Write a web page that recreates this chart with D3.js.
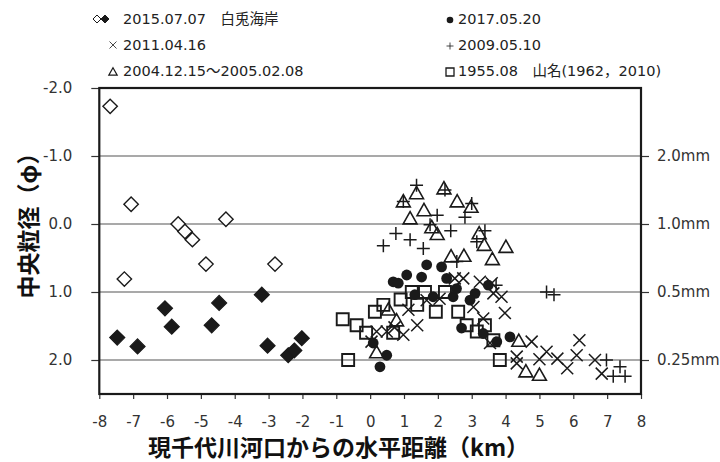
<!DOCTYPE html>
<html>
<head>
<meta charset="utf-8">
<script src="https://cdn.jsdelivr.net/npm/d3@7"></script>
<style>
  html, body { margin: 0; padding: 0; background: #fff; }
  svg { display: block; }
</style>
</head>
<body>
<svg id="chart" width="720" height="462"></svg>
<script>
// ---------- data (km from river mouth, median grain size φ) ----------
const xTicks = [-8,-7,-6,-5,-4,-3,-2,-1,0,1,2,3,4,5,6,7,8];
const yTicks = [-2,-1,0,1,2];
const gridValues = [-1,0,1,2];
const mmTicks = [2.0, 1.0, 0.5, 0.25];
const mmLabels = ["2.0mm","1.0mm","0.5mm","0.25mm"];

const hakuto2015Open = [[-7.68,-1.73],[-7.06,-0.29],[-7.26,0.81],[-5.67,0.00],[-5.47,0.11],[-5.25,0.23],[-4.85,0.59],[-4.26,-0.07],[-2.81,0.59]];
const hakuto2015Filled = [[-7.47,1.67],[-6.87,1.80],[-6.06,1.24],[-5.86,1.51],[-4.68,1.49],[-4.46,1.16],[-3.20,1.04],[-3.03,1.79],[-2.42,1.93],[-2.24,1.86],[-2.02,1.68]];
const s1955 = [[-0.81,1.40],[-0.40,1.49],[-0.12,1.60],[0.14,1.29],[0.39,1.19],[0.90,1.11],[1.23,1.00],[1.62,1.00],[1.39,1.19],[1.94,1.29],[2.21,1.00],[2.60,1.29],[0.68,1.60],[2.85,1.49],[3.39,1.49],[3.15,1.58],[3.64,1.71],[-0.65,2.00],[3.83,2.00]];
const s2004 = [[0.98,-0.33],[1.37,-0.45],[2.18,-0.52],[2.57,-0.33],[2.98,-0.25],[1.59,-0.20],[1.18,-0.08],[1.82,0.05],[1.98,0.15],[3.22,0.14],[3.37,0.31],[4.01,0.34],[2.39,0.48],[2.77,0.47],[3.61,0.52],[0.54,1.26],[0.78,1.42],[0.19,1.89],[4.60,2.17],[5.00,2.22],[4.39,1.72]];
const s2011 = [[2.75,0.80],[3.24,0.85],[3.64,1.02],[3.88,1.07],[3.98,1.31],[3.05,1.22],[3.34,1.39],[2.50,0.80],[1.13,1.26],[1.39,1.49],[0.98,1.63],[0.49,1.58],[0.19,1.58],[0.04,1.73],[1.67,1.12],[3.54,1.75],[4.33,1.95],[4.77,1.73],[4.33,2.05],[5.21,1.88],[5.53,1.98],[5.82,2.12],[6.18,1.71],[6.10,1.93],[6.64,2.00],[6.84,2.20],[5.00,1.99],[3.59,0.87],[2.05,1.10],[0.72,1.52]];
const s2009 = [[1.37,-0.57],[0.98,-0.33],[1.98,-0.13],[2.21,-0.50],[3.00,-0.30],[2.80,-0.10],[2.38,0.10],[1.77,0.01],[0.76,0.14],[1.18,0.23],[0.39,0.32],[1.57,0.36],[3.39,0.10],[3.15,0.26],[2.56,0.55],[5.21,1.00],[5.43,1.04],[6.98,2.00],[7.38,2.10],[7.53,2.24],[7.18,2.24],[3.72,0.90]];
const s2017 = [[1.67,0.60],[2.11,0.63],[1.08,0.75],[1.52,0.78],[0.68,0.85],[0.83,0.87],[2.26,0.80],[1.86,1.07],[1.32,1.04],[2.45,1.07],[3.10,1.02],[2.95,1.12],[3.49,0.90],[2.70,1.53],[3.34,1.61],[4.13,1.66],[0.09,1.75],[0.49,1.93],[0.29,2.10],[3.74,1.73],[2.55,0.95]];

const legendLabels = {
  hakuto: "2015.07.07\u3000白兎海岸",
  s2017: "2017.05.20",
  s2011: "2011.04.16",
  s2009: "2009.05.10",
  s2004: "2004.12.15～2005.02.08",
  s1955: "1955.08\u3000山名(1962，2010)"
};

// ---------- layout ----------
const svg = d3.select("#chart");
const pLeft = 99.3, pRight = 641, pTop = 88, pBottom = 394;
const x = d3.scaleLinear().domain([-8, 8]).range([pLeft, pRight]);
const y = d3.scaleLinear().domain([-2, 2.5]).range([pTop, pBottom]);
const ink = "#1a1a1a";
const tickColor = "#333";
const numFont = "'DejaVu Sans', Verdana, sans-serif";
const cjkFont = "'DejaVu Sans', 'Noto Sans CJK JP', sans-serif";

// marker path generators
const shapes = {
  diamond: r => `M0,${-r}L${r},0L0,${r}L${-r},0Z`,
  square: r => `M${-r},${-r}H${r}V${r}H${-r}Z`,
  triangle: r => `M0,${-r*1.05}L${r*1.05},${r*0.8}L${-r*1.05},${r*0.8}Z`,
  cross: r => `M${-r},${-r}L${r},${r}M${-r},${r}L${r},${-r}`,
  plus: r => `M${-r},0H${r}M0,${-r}V${r}`
};

// gridlines
svg.append("g").selectAll("line").data(gridValues).join("line")
  .attr("x1", pLeft).attr("x2", pRight)
  .attr("y1", d => y(d)).attr("y2", d => y(d))
  .attr("stroke", "#555").attr("stroke-width", 1.2);

// axes
function styleAxis(g) {
  g.select(".domain").remove();
  g.selectAll(".tick line").attr("stroke", "#333").attr("stroke-width", 1.2);
  g.selectAll(".tick text").attr("fill", tickColor).style("font-family", numFont).style("font-size", "15px");
}
svg.append("g").attr("transform", `translate(0,${pBottom})`)
  .call(d3.axisBottom(x).tickValues(xTicks).tickFormat(d => String(d)).tickSize(5).tickPadding(17))
  .call(styleAxis);
svg.append("g").attr("transform", `translate(${pLeft},0)`)
  .call(d3.axisLeft(y).tickValues(yTicks).tickFormat(d => d.toFixed(1)).tickSize(8).tickPadding(19))
  .call(styleAxis);
const mmPos = mmTicks.map(m => -Math.log2(m));
svg.append("g").attr("transform", `translate(${pRight},0)`)
  .call(d3.axisRight(y).tickValues(mmPos).tickFormat((d, i) => mmLabels[i]).tickSize(8).tickPadding(8))
  .call(styleAxis);

// frame
svg.append("rect").attr("x", pLeft).attr("y", pTop)
  .attr("width", pRight - pLeft).attr("height", pBottom - pTop)
  .attr("fill", "none").attr("stroke", ink).attr("stroke-width", 2.2);

// series
const series = [
  {data: hakuto2015Open, shape: "diamond", r: 7.2, fill: "#fff", sw: 1.4},
  {data: hakuto2015Filled, shape: "diamond", r: 7.5, fill: ink, sw: 1.2},
  {data: s1955, shape: "square", r: 6, fill: "none", sw: 1.9},
  {data: s2004, shape: "triangle", r: 6.6, fill: "none", sw: 1.6},
  {data: s2011, shape: "cross", r: 6, fill: "none", sw: 1.5},
  {data: s2009, shape: "plus", r: 6.5, fill: "none", sw: 1.5},
];
const plotG = svg.append("g");
series.forEach(s => {
  plotG.append("g").selectAll("path").data(s.data).join("path")
    .attr("transform", d => `translate(${x(d[0])},${y(d[1])})`)
    .attr("d", shapes[s.shape](s.r))
    .attr("fill", s.fill).attr("stroke", ink).attr("stroke-width", s.sw)
    .attr("stroke-linejoin", "miter");
});
plotG.append("g").selectAll("circle").data(s2017).join("circle")
  .attr("cx", d => x(d[0])).attr("cy", d => y(d[1])).attr("r", 5.4)
  .attr("fill", ink);

// legend
const leg = svg.append("g");
const rows = [19, 45, 71];
function legText(tx, ty, txt) {
  leg.append("text").attr("x", tx).attr("y", ty).attr("dy", "0.36em")
    .attr("fill", "#222").style("font-family", cjkFont).style("font-size", "14.5px").text(txt);
}
function legMark(shape, cx, cy, r, fill, sw) {
  leg.append("path").attr("transform", `translate(${cx},${cy})`).attr("d", shapes[shape](r))
    .attr("fill", fill).attr("stroke", ink).attr("stroke-width", sw);
}
legMark("diamond", 97, rows[0], 4, "#fff", 1);
legMark("diamond", 105, rows[0], 4, ink, 1);
legText(123, rows[0], legendLabels.hakuto);
legMark("cross", 113, rows[1], 3.5, "none", 0.8);
legText(123, rows[1], legendLabels.s2011);
legMark("triangle", 113, rows[2] + 1, 4, "none", 1.2);
legText(123, rows[2], legendLabels.s2004);
leg.append("circle").attr("cx", 450).attr("cy", rows[0] + 1).attr("r", 3.3).attr("fill", ink);
legText(458, rows[0], legendLabels.s2017);
legMark("plus", 450, rows[1] + 1, 3.5, "none", 0.8);
legText(458, rows[1], legendLabels.s2009);
legMark("square", 450, rows[2] + 1, 4, "none", 1.3);
legText(458, rows[2], legendLabels.s1955);

// axis titles
svg.append("text").attr("x", 148).attr("y", 456)
  .style("font-family", "'Noto Sans CJK JP', sans-serif").style("font-weight", "bold").style("font-size", "23px")
  .attr("fill", "#111").text("現千代川河口からの水平距離（km）");
svg.append("text").attr("transform", "translate(29,220) rotate(-90)")
  .attr("text-anchor", "middle").attr("dy", "0.36em")
  .style("font-family", "'Noto Sans CJK JP', sans-serif").style("font-weight", "bold").style("font-size", "23px")
  .attr("fill", "#111").text("中央粒径（φ）");
</script>
</body>
</html>
